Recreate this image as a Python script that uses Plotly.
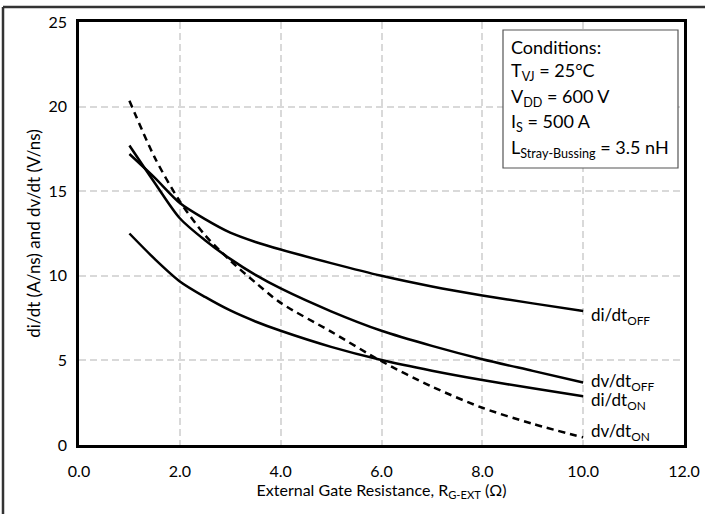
import plotly.graph_objects as go

# ---- data ----
r_gext = [1, 1.5, 2, 2.5, 3, 3.5, 4, 5, 6, 7, 8, 9, 10]
di_dt_off = [17.2, 15.8, 14.3, 13.35, 12.55, 12.0, 11.55, 10.75, 10.0, 9.37, 8.84, 8.37, 7.92]
dv_dt_off = [17.7, 15.5, 13.4, 12.1, 11.0, 10.05, 9.25, 7.9, 6.75, 5.86, 5.07, 4.38, 3.69]
di_dt_on = [12.5, 11.0, 9.67, 8.75, 7.95, 7.3, 6.75, 5.8, 5.02, 4.39, 3.84, 3.35, 2.88]
dv_dt_on = [20.35, 17.0, 14.4, 12.4, 10.9, 9.6, 8.4, 6.7, 4.95, 3.45, 2.2, 1.25, 0.45]

series = [
    ("di/dt<sub>OFF</sub>", di_dt_off, "solid", 7.6),
    ("dv/dt<sub>OFF</sub>", dv_dt_off, "solid", 3.75),
    ("di/dt<sub>ON</sub>", di_dt_on, "solid", 2.6),
    ("dv/dt<sub>ON</sub>", dv_dt_on, "7px,5px", 0.75),
]

x_ticks = [0, 2, 4, 6, 8, 10, 12]
x_tick_labels = ["0.0", "2.0", "4.0", "6.0", "8.0", "10.0", "12.0"]
y_ticks = [0, 5, 10, 15, 20, 25]

conditions = [
    "Conditions:",
    "T<sub>VJ</sub> = 25°C",
    "V<sub>DD</sub> = 600 V",
    "I<sub>S</sub> = 500 A",
    "L<sub>Stray-Bussing</sub> = 3.5 nH",
]

FONT = "Lato, 'Open Sans', sans-serif"

fig = go.Figure()
for name, vals, dash, lab_y in series:
    fig.add_trace(go.Scatter(
        x=r_gext, y=vals, mode="lines", name=name,
        line=dict(color="black", width=2.5, dash=dash, shape="spline", smoothing=0.8),
        showlegend=False, hoverinfo="skip",
    ))
    fig.add_annotation(
        x=r_gext[-1], y=lab_y, xref="x", yref="y", text=name,
        showarrow=False, xanchor="left", yanchor="middle", xshift=6,
        font=dict(family=FONT, size=17, color="black"),
    )

# Conditions box
W, H = 705, 514
ml, mr, mt, mb = 79, 21, 22, 69
pw, ph = W - ml - mr, H - mt - mb

def px(xp):
    return (xp - ml) / pw

def py(yp):
    return (H - mb - yp) / ph

fig.add_shape(type="rect", xref="paper", yref="paper",
              x0=px(503), x1=px(678), y0=py(168), y1=py(30),
              line=dict(color="#555555", width=1.2), fillcolor="white", layer="above")
line_y = [47, 72, 97, 122, 148]
for txt, ly in zip(conditions, line_y):
    fig.add_annotation(x=px(509), y=py(ly), xref="paper", yref="paper", text=txt,
                       showarrow=False, xanchor="left", yanchor="middle",
                       font=dict(family=FONT, size=18, color="black"))

# outer frame (top and left edges)
fig.add_shape(type="line", xref="paper", yref="paper",
              x0=px(3), x1=px(710), y0=py(7), y1=py(7),
              line=dict(color="#333333", width=2.5))
fig.add_shape(type="line", xref="paper", yref="paper",
              x0=px(3), x1=px(3), y0=py(7), y1=py(520),
              line=dict(color="#333333", width=2.5))

axis_common = dict(
    showline=True, linecolor="black", linewidth=2.5, mirror=True,
    showgrid=True, gridcolor="#d9d9d9", gridwidth=1.5, griddash="7px,4px",
    zeroline=False, ticks="",
    tickfont=dict(family=FONT, size=16, color="black"),
)

fig.update_xaxes(
    range=[0, 12], tickvals=x_ticks, ticktext=x_tick_labels,
    title=dict(text="External Gate Resistance, R<sub>G-EXT</sub> (Ω)",
               font=dict(family=FONT, size=16, color="black"), standoff=4),
    ticklabelstandoff=10,
    **axis_common,
)
fig.update_yaxes(
    range=[0, 25], tickvals=y_ticks,
    title=dict(text="di/dt (A/ns) and dv/dt (V/ns)",
               font=dict(family=FONT, size=17, color="black"), standoff=4),
    ticklabelstandoff=6,
    **axis_common,
)

fig.update_layout(
    width=W, height=H,
    margin=dict(l=ml, r=mr, t=mt, b=mb, autoexpand=False),
    paper_bgcolor="white", plot_bgcolor="white",
    font=dict(family=FONT, color="black"),
)

fig.write_html("out.html", config={"displayModeBar": False},
               post_script="document.body.style.margin='0';document.body.style.padding='0';")
